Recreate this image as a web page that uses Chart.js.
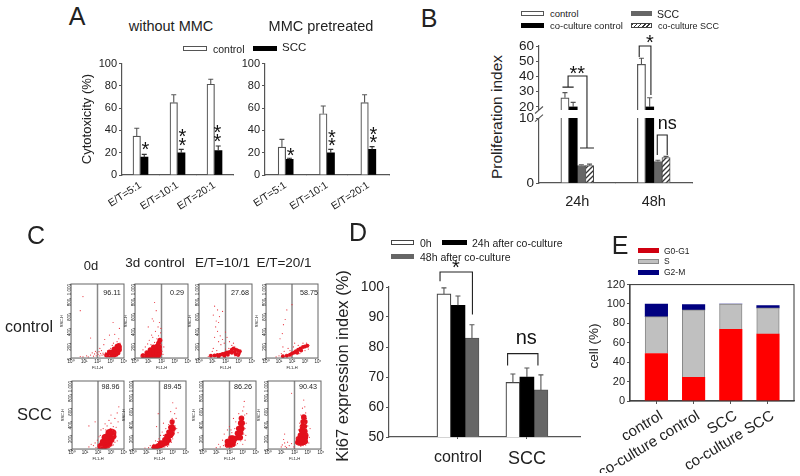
<!DOCTYPE html>
<html>
<head>
<meta charset="utf-8">
<script src="https://cdn.jsdelivr.net/npm/chart.js@4"></script>
<style>
  html, body { margin: 0; background: #fff; }
  #page { position: relative; width: 800px; height: 476px; overflow: hidden; font-family: "Liberation Sans", Arial, sans-serif; color: #222; }
  #page canvas { position: absolute; }
  .txt { position: absolute; white-space: nowrap; line-height: 1; }
  .swatch { position: absolute; box-sizing: border-box; }
</style>
</head>
<body>
<div id="page"></div>
<script>
// panel A
const aCategories = ["E/T=5:1", "E/T=10:1", "E/T=20:1"];
const aTicks = [0, 20, 40, 60, 80, 100];
const aLeftControl = [35, 65, 81.5];
const aLeftControlErr = [7, 7, 4.5];
const aLeftScc = [16, 20, 22];
const aLeftSccErr = [2.5, 3, 4];
const aRightControl = [25, 55, 65];
const aRightControlErr = [7, 7, 7];
const aRightScc = [14, 20, 23];
const aRightSccErr = [1, 3, 2.5];

// panel B (axis is broken between 10 and 18)
const bCategories = ["24h", "48h"];
const bTicks = [0, 10, 20, 30, 40, 50, 60];
const bControl = [26, 48];
const bControlErr = [3.4, 4];
const bCoControl = [20, 20];
const bCoControlErr = [3, 6];
const bScc = [2.7, 3.3];
const bSccErr = [0.1, 0.2];
const bCoScc = [2.7, 3.9];
const bCoSccErr = [0.2, 0.2];

// panel C: flow plots, [FL1-H, SSC-H]
const flowXTicks = [1, 10, 100, 1000, 10000];
const flowXLabels = ["10⁰", "10¹", "10²", "10³", "10⁴"];
const flowYTicks = [0, 200, 400, 600, 800, 1000];
const flowGate = [100, 100];
const flowPercent = ["96.11", "0.29", "27.68", "58.75", "98.96", "89.45", "86.26", "90.43"];
const flowCore = [
  [[500,40],[800,40],[1200,40],[1800,40],[2500,50],[800,80],[1200,80],[1800,80],[2500,80],[3500,70],[1800,120],[2500,120],[3500,120],[4500,110],[3000,160],[4000,170],[4500,150]],
  [[4,30],[7,30],[12,30],[20,30],[35,30],[60,30],[8,70],[14,70],[25,70],[45,70],[70,60],[14,110],[25,110],[45,110],[70,100],[25,150],[45,160],[70,150],[60,200],[75,240]],
  [[8,30],[15,35],[25,40],[40,45],[60,55],[90,60],[130,75],[200,80],[300,70],[500,80],[300,110],[150,45],[600,50],[600,110],[400,130],[800,100],[1000,60],[1200,90],[80,30],[30,20],[900,40]],
  [[20,25],[40,30],[70,45],[100,60],[150,75],[200,90],[300,110],[450,130],[700,150],[1000,155],[1500,165],[250,70],[500,100]],
  [[170,40],[250,60],[350,50],[500,60],[700,80],[250,100],[350,110],[500,120],[700,130],[1000,140],[350,170],[500,180],[700,190],[1000,200],[1400,190],[700,240],[1000,250],[1400,240]],
  [[40,30],[60,30],[80,50],[120,50],[160,60],[120,90],[180,90],[250,80],[350,90],[250,140],[350,140],[500,130],[350,190],[500,190],[700,200],[500,250],[700,260],[900,230],[700,320],[900,330],[1100,300],[900,400]],
  [[70,60],[100,70],[130,60],[180,70],[70,110],[100,110],[150,110],[200,110],[130,160],[180,160],[250,150],[400,170],[500,170],[650,170],[400,230],[550,240],[700,240],[500,300],[700,310],[850,300],[700,380],[900,380],[800,450]],
  [[180,100],[250,90],[350,90],[500,100],[650,110],[200,150],[300,150],[450,150],[650,160],[280,200],[400,210],[550,210],[700,200],[350,270],[450,270],[600,260],[400,330],[550,330],[450,400],[600,400],[500,470]]
];
const flowDots = [
  [[5,20],[8,15],[15,30],[20,15],[30,40],[40,70],[50,25],[60,55],[70,90],[80,30],[90,70],[110,50],[130,85],[150,30],[170,60],[200,100],[220,40],[260,65],[300,45],[350,30],[400,70],[500,30],[600,100],[800,35],[1000,130],[1300,170],[1600,200],[3000,220],[4000,260],[5000,200],[6000,120],[2000,320],[800,310],[4500,400],[300,180],[8,830],[5,640],[30,270],[350,250],[150,130],[1500,480]],
  [[3,20],[4,60],[5,30],[4,110],[6,150],[9,190],[12,240],[18,310],[10,420],[25,500],[30,750],[40,640],[22,280],[45,260],[60,300],[85,340],[95,260],[100,180],[110,90],[130,50],[90,400],[70,480],[16,180],[30,210],[6,90],[150,150],[35,360],[55,420],[20,530]],
  [[5,20],[6,40],[10,90],[15,700],[25,650],[12,580],[20,500],[30,480],[18,420],[25,360],[40,300],[15,280],[30,220],[45,180],[12,130],[60,250],[80,200],[100,350],[130,280],[60,630],[35,560],[200,220],[300,170],[500,150],[700,130],[800,40],[400,200],[700,90],[100,120],[180,130],[22,100],[500,30],[1000,70]],
  [[6,15],[10,30],[15,60],[25,90],[20,150],[12,260],[18,330],[30,520],[40,650],[22,450],[50,130],[70,100],[130,150],[100,720],[160,200],[35,50],[600,90],[1000,100],[1800,120],[2000,170],[1300,200],[700,200],[300,170],[60,20],[400,60],[90,30]],
  [[20,30],[30,70],[45,50],[60,90],[70,20],[90,130],[100,60],[120,180],[150,30],[170,280],[200,40],[250,300],[350,370],[500,340],[700,420],[1000,380],[1500,330],[2000,250],[2500,180],[3000,120],[2000,100],[1500,60],[1200,50],[800,30],[1000,500],[2000,450],[3000,530],[4000,620],[3500,400],[150,200],[60,400],[20,340],[1500,200],[1300,280],[900,300],[400,280],[180,140],[2500,320],[600,20]],
  [[8,15],[15,20],[25,20],[20,50],[35,70],[50,120],[70,110],[90,150],[120,200],[160,250],[200,200],[300,50],[500,60],[800,100],[1000,150],[1300,260],[1500,340],[1800,450],[2000,300],[1400,520],[1800,600],[1200,420],[900,450],[700,400],[500,360],[300,300],[200,380],[80,520],[60,330],[1100,200],[2500,240],[1000,680],[700,550],[400,40],[250,30]],
  [[10,20],[15,70],[20,30],[30,130],[35,50],[40,220],[50,80],[60,30],[70,280],[80,150],[100,330],[130,280],[180,40],[250,300],[200,450],[300,60],[400,80],[700,120],[900,150],[1200,220],[1500,300],[1800,380],[1400,500],[1000,560],[1200,620],[1300,700],[900,480],[600,430],[500,520],[1500,130],[1000,70],[1700,200],[400,330],[300,400],[150,240],[2000,520]],
  [[10,30],[12,60],[15,140],[18,90],[20,40],[25,20],[18,220],[30,100],[40,50],[60,80],[60,820],[90,30],[120,80],[150,160],[180,60],[200,280],[250,380],[300,500],[350,450],[400,600],[500,720],[600,620],[700,530],[800,450],[1000,340],[700,300],[900,220],[1300,170],[700,60],[450,50],[300,40],[1200,90],[600,380],[280,330],[1500,300]]
];

// panel D
const dCategories = ["control", "SCC"];
const dTicks = [50, 60, 70, 80, 90, 100];
const dZero = [97.7, 68.2];
const dZeroErr = [2, 2.8];
const dDay1 = [93.9, 70];
const dDay1Err = [3.1, 3];
const dDay2 = [83, 65.7];
const dDay2Err = [4.4, 5];

// panel E
const eCategories = ["control", "co-culture control", "SCC", "co-culture SCC"];
const eTicks = [0, 20, 40, 60, 80, 100, 120];
const eG0G1 = [49, 24.5, 74, 69];
const eS = [38, 69.5, 26, 27];
const eG2M = [13, 5.5, 0, 2.4];

const page = document.getElementById("page");
const FONT = '"Liberation Sans", Arial, sans-serif';
const INK = "#222";
const AXIS = "#555";

Chart.defaults.animation = false;
Chart.defaults.responsive = false;
Chart.defaults.font.family = FONT;
Chart.defaults.color = INK;
Chart.defaults.plugins.legend.display = false;
Chart.defaults.plugins.tooltip.enabled = false;

function text(str, x, y, size, rot) {
  const d = document.createElement("div");
  d.className = "txt";
  d.textContent = str;
  d.style.left = x + "px";
  d.style.top = y + "px";
  d.style.fontSize = size + "px";
  d.style.transform = "translate(-50%,-50%)" + (rot ? " rotate(" + rot + "deg)" : "");
  page.appendChild(d);
}

function leftText(str, x, y, size) {
  const d = document.createElement("div");
  d.className = "txt";
  d.textContent = str;
  d.style.left = x + "px";
  d.style.top = y + "px";
  d.style.fontSize = size + "px";
  d.style.transform = "translateY(-50%)";
  page.appendChild(d);
}

function swatch(x, y, w, fill, border) {
  const d = document.createElement("div");
  d.className = "swatch";
  d.style.left = x + "px";
  d.style.top = y - 2.5 + "px";
  d.style.width = w + "px";
  d.style.height = "5px";
  d.style.background = fill;
  d.style.border = "1px solid " + (border || fill);
  page.appendChild(d);
}

function hatchPattern() {
  const c = document.createElement("canvas");
  c.width = 5;
  c.height = 5;
  const g = c.getContext("2d");
  g.fillStyle = "#fff";
  g.fillRect(0, 0, 5, 5);
  g.strokeStyle = "#333";
  g.lineWidth = 1.3;
  g.beginPath();
  g.moveTo(-1, 6);
  g.lineTo(6, -1);
  g.moveTo(-1, 1);
  g.lineTo(1, -1);
  g.moveTo(4, 6);
  g.lineTo(6, 4);
  g.stroke();
  return g.createPattern(c, "repeat");
}

// box is the plot area on the page, pad the room round it for labels
function addCanvas(box, pad) {
  const c = document.createElement("canvas");
  c.width = box.r - box.l + pad.l + pad.r;
  c.height = box.b - box.t + pad.t + pad.b;
  c.style.left = box.l - pad.l + "px";
  c.style.top = box.t - pad.t + "px";
  page.appendChild(c);
  return c;
}

function padding(pad) {
  return { padding: { top: pad.t, right: pad.r, left: 0, bottom: 0 } };
}

function yAxis(min, max, ticks, size, width, extra) {
  return Object.assign({
    min: min,
    max: max,
    afterBuildTicks: (s) => { s.ticks = ticks.map((v) => ({ value: v })); },
    afterFit: (s) => { s.width = width; },
    grid: { drawOnChartArea: false, tickLength: 3, color: AXIS },
    border: { color: AXIS, width: 1.2 },
    ticks: { font: { size: size }, padding: 2, autoSkip: false }
  }, extra || {});
}

function xAxis(labels, height, font, rot, tickLen, tickPad) {
  return {
    afterFit: (s) => { s.height = height; },
    grid: { drawOnChartArea: false, tickLength: tickLen, color: AXIS },
    border: { color: AXIS, width: 1.2 },
    ticks: { font: font, padding: tickPad, autoSkip: false, minRotation: rot, maxRotation: rot }
  };
}

// category axis whose slots are not the full plot width
function xLinearAxis(labels, min, max, height, font, rot, tickLen, tickPad, labelOffset) {
  return Object.assign(xAxis(labels, height, font, rot, tickLen, tickPad), {
    type: "linear",
    min: min,
    max: max,
    offset: false,
    afterBuildTicks: (s) => { s.ticks = labels.map((_, i) => ({ value: i + 1 })); },
    ticks: {
      font: font,
      padding: tickPad,
      autoSkip: false,
      minRotation: rot,
      maxRotation: rot,
      labelOffset: labelOffset || 0,
      callback: (v) => labels[v - 1]
    },
    grid: { drawOnChartArea: false, offset: false, tickLength: tickLen, color: AXIS }
  });
}

function pointsOf(values) {
  return values.map((v, i) => ({ x: i + 1, y: v }));
}

// error bars, brackets and significance marks, placed through the scales
function marksPlugin(marks) {
  return {
    id: "marks",
    afterDatasetsDraw(chart) {
      const ctx = chart.ctx;
      const xs = chart.scales.x;
      const ys = chart.scales.y;
      ctx.save();
      if (marks.gap) marks.gap(chart);
      chart.data.datasets.forEach((ds, i) => {
        if (!ds.err) return;
        chart.getDatasetMeta(i).data.forEach((bar, j) => {
          const top = ys.getPixelForValue(ds.value[j] + ds.err[j]);
          const from = ys.getPixelForValue(ds.value[j]);
          ctx.strokeStyle = ds.errColor || AXIS;
          ctx.lineWidth = 1.1;
          ctx.beginPath();
          ctx.moveTo(bar.x, from);
          ctx.lineTo(bar.x, top);
          ctx.moveTo(bar.x - 2.5, top);
          ctx.lineTo(bar.x + 2.5, top);
          ctx.stroke();
        });
      });
      (marks.brackets || []).forEach((b) => {
        const x0 = xs.getPixelForValue(b.x0);
        const x1 = xs.getPixelForValue(b.x1);
        const y = ys.getPixelForValue(b.y);
        const y0 = ys.getPixelForValue(b.from);
        const y1 = ys.getPixelForValue(b.to);
        ctx.strokeStyle = "#222";
        ctx.lineWidth = 1.1;
        ctx.beginPath();
        ctx.moveTo(x0, y0);
        ctx.lineTo(x0, y);
        ctx.lineTo(x1, y);
        ctx.lineTo(x1, y1);
        if (b.capL) { ctx.moveTo(x0 - b.capL, y0); ctx.lineTo(x0 + b.capL, y0); }
        if (b.capR) { ctx.moveTo(x1 - b.capR, y1); ctx.lineTo(x1 + b.capR, y1); }
        ctx.stroke();
      });
      (marks.labels || []).forEach((m) => {
        ctx.fillStyle = "#111";
        ctx.font = m.size + "px " + FONT;
        ctx.textAlign = "center";
        ctx.textBaseline = "middle";
        const isStar = m.text.charAt(0) === "*";
        ctx.fillText(m.text, xs.getPixelForValue(m.x), ys.getPixelForValue(m.y) + (isStar ? m.size * 0.2 : 0));
      });
      ctx.restore();
    }
  };
}

const framePlugin = {
  id: "frame",
  afterDatasetsDraw(chart) {
    const a = chart.chartArea;
    const ctx = chart.ctx;
    ctx.save();
    ctx.strokeStyle = chart.options.frameColor || "#444";
    ctx.lineWidth = 1;
    ctx.strokeRect(a.left, a.top, a.right - a.left, a.bottom - a.top);
    ctx.restore();
  }
};

// ---- panel A ----
function cytotoxChart(box, control, controlErr, scc, sccErr, marks) {
  const pad = { l: 34, r: 6, t: 8, b: 40 };
  new Chart(addCanvas(box, pad), {
    type: "bar",
    data: {
      labels: aCategories,
      datasets: [
        { data: control, value: control, err: controlErr, backgroundColor: "#fff", borderColor: AXIS, borderWidth: 1.2, barThickness: 7.5 },
        { data: scc, value: scc, err: sccErr, errColor: "#333", backgroundColor: "#000", barThickness: 7.5 }
      ]
    },
    options: {
      layout: padding(pad),
      scales: {
        x: xAxis(aCategories, 40, { size: 10.5 }, 33, 0, 4),
        y: yAxis(0, 100, aTicks, 11, 34)
      }
    },
    plugins: [marksPlugin(marks)]
  });
}

cytotoxChart({ l: 122, r: 233, t: 63, b: 175 }, aLeftControl, aLeftControlErr, aLeftScc, aLeftSccErr, {
  labels: [
    { x: 0.13, y: 26, text: "*", size: 20 },
    { x: 1.13, y: 37, text: "*", size: 20 },
    { x: 1.13, y: 29.5, text: "*", size: 20 },
    { x: 2.08, y: 40.5, text: "*", size: 20 },
    { x: 2.08, y: 32.5, text: "*", size: 20 }
  ]
});
cytotoxChart({ l: 265, r: 389, t: 63, b: 175 }, aRightControl, aRightControlErr, aRightScc, aRightSccErr, {
  labels: [
    { x: 0.12, y: 20, text: "*", size: 20 },
    { x: 1.12, y: 36, text: "*", size: 20 },
    { x: 1.12, y: 29, text: "*", size: 20 },
    { x: 2.12, y: 39.5, text: "*", size: 20 },
    { x: 2.12, y: 32, text: "*", size: 20 }
  ]
});

text("A", 77, 16, 25);
text("without MMC", 171, 26, 14.5);
text("MMC pretreated", 321, 26, 14.5);
text("Cytotoxicity (%)", 86, 119, 13, -90);
swatch(183, 48, 24, "#fff", AXIS);
leftText("control", 213, 48.5, 10.5);
swatch(253, 48, 24, "#000");
leftText("SCC", 282, 48, 11.5);

// ---- panel B ----
// linear scale with a cut in it: 0-10 below the cut, 18-60 above
class BrokenScale extends Chart.LinearScale {
  static id = "broken";
  static defaults = Chart.LinearScale.defaults;
  getPixelForValue(v) {
    let d;
    if (v <= 10) d = (v / 10) * 0.474;
    else if (v <= 18) d = 0.474 + ((v - 10) / 8) * 0.059;
    else d = 0.533 + ((v - 18) / 42) * 0.467;
    return this.getPixelForDecimal(d);
  }
}
Chart.register(BrokenScale);

const bBox = { l: 539, r: 692, t: 46, b: 183 };
const bPad = { l: 30, r: 8, t: 16, b: 30 };
new Chart(addCanvas(bBox, bPad), {
  type: "bar",
  data: {
    labels: bCategories,
    datasets: [
      { data: bControl, value: bControl, err: bControlErr, backgroundColor: "#fff", borderColor: AXIS, borderWidth: 1.2, barThickness: 8.2 },
      { data: bCoControl, value: bCoControl, err: bCoControlErr, backgroundColor: "#000", barThickness: 8.2 },
      { data: bScc, value: bScc, err: bSccErr, backgroundColor: "#666", borderColor: "#555", borderWidth: 1, barThickness: 8.2 },
      { data: bCoScc, value: bCoScc, err: bCoSccErr, backgroundColor: hatchPattern(), borderColor: "#444", borderWidth: 1, barThickness: 8.2 }
    ]
  },
  options: {
    layout: padding(bPad),
    scales: {
      x: xAxis(bCategories, 30, { size: 14.5 }, 0, 0, 10),
      y: yAxis(0, 60, bTicks, 13.5, 30, { type: "broken" })
    }
  },
  plugins: [marksPlugin({
    gap(chart) {
      const ctx = chart.ctx;
      const ys = chart.scales.y;
      const a = chart.chartArea;
      const low = ys.getPixelForValue(10);
      const high = ys.getPixelForValue(18);
      ctx.clearRect(a.left - 1, high, a.right - a.left + 1, low - high);
      ctx.strokeStyle = AXIS;
      ctx.lineWidth = 1.1;
      ctx.beginPath();
      [low, high].forEach((y) => {
        ctx.moveTo(a.left - 4, y + 3.5);
        ctx.lineTo(a.left + 4, y - 3.5);
      });
      ctx.stroke();
    },
    brackets: [
      { x0: -0.12, x1: 0.127, y: 40.3, from: 33, to: 5.4, capL: 5.6, capR: 7 },
      { x0: 0.81, x1: 0.963, y: 60, from: 52.8, to: 27.8 },
      { x0: 1.046, x1: 1.176, y: 7.4, from: 4.3, to: 4.3 }
    ],
    labels: [
      { x: 0, y: 44, text: "**", size: 20 },
      { x: 0.95, y: 64, text: "*", size: 20 },
      { x: 1.176, y: 9.1, text: "ns", size: 18 }
    ]
  })]
});

text("B", 429, 18, 25);
text("Proliferation index", 497, 117, 15.5, -90);
swatch(521, 13, 23, "#fff", AXIS);
leftText("control", 550, 13.5, 9.5);
swatch(521, 25, 23, "#000");
leftText("co-culture control", 550, 25.5, 9.5);
swatch(631, 13, 21, "#666");
leftText("SCC", 657, 13.5, 10.5);
swatch(631, 25, 21, "repeating-linear-gradient(135deg,#333 0 1px,#fff 1px 3px)", "#444");
leftText("co-culture SCC", 658, 26, 9);

// ---- panel C ----
const flowBoxes = [
  { l: 71, r: 124, t: 284, b: 358 },
  { l: 135, r: 188, t: 284, b: 358 },
  { l: 199, r: 252, t: 284, b: 358 },
  { l: 266, r: 318, t: 284, b: 358 },
  { l: 72, r: 124, t: 381, b: 449 },
  { l: 133, r: 186, t: 381, b: 449 },
  { l: 203, r: 256, t: 381, b: 449 },
  { l: 268, r: 321, t: 381, b: 449 }
];
const flowCoreRadius = [2.5, 2.5, 2, 2, 3.5, 2.6, 2.8, 2.8];
const flowTextPos = [[112, 293], [177, 293], [240, 293], [309, 293], [110.5, 387], [172.5, 387], [243, 387], [308, 387]];

flowBoxes.forEach((box, i) => {
  const pair = (d) => d.map((p) => ({ x: p[0], y: p[1] }));
  const pad = { l: 12, r: 5, t: 4, b: 12 };
  new Chart(addCanvas(box, pad), {
    type: "scatter",
    data: {
      datasets: [
        { data: pair(flowDots[i]), backgroundColor: "#e8323c", pointRadius: 0.6, borderWidth: 0 },
        { data: pair(flowCore[i]), backgroundColor: "#e2101c", pointRadius: flowCoreRadius[i], borderWidth: 0 },
        { data: [{ x: flowGate[0], y: 0 }, { x: flowGate[1], y: 1000 }], showLine: true, borderColor: "#888", borderWidth: 1.5, pointRadius: 0 }
      ]
    },
    options: {
      frameColor: "#666",
      layout: padding(pad),
      scales: {
        x: {
          type: "logarithmic",
          min: 1,
          max: 10000,
          afterBuildTicks: (s) => { s.ticks = flowXTicks.map((v) => ({ value: v })); },
          afterFit: (s) => { s.height = 12; },
          grid: { drawOnChartArea: false, tickLength: 1.5, color: "#666" },
          ticks: { font: { size: 4.5 }, padding: 0, autoSkip: false, maxRotation: 0, callback: (v) => flowXLabels[flowXTicks.indexOf(v)] },
          title: { display: true, text: "FL1-H", font: { size: 4 }, padding: 0 }
        },
        y: {
          min: 0,
          max: 1000,
          afterBuildTicks: (s) => { s.ticks = flowYTicks.map((v) => ({ value: v })); },
          afterFit: (s) => { s.width = 12; },
          grid: { drawOnChartArea: false, tickLength: 1.5, color: "#666" },
          ticks: { font: { size: 4.5 }, padding: 0, autoSkip: false, minRotation: 90, maxRotation: 90 },
          title: { display: true, text: "SSC-H", font: { size: 4 }, padding: 0 }
        }
      }
    },
    plugins: [framePlugin]
  });
  text(flowPercent[i], flowTextPos[i][0], flowTextPos[i][1], 7.2);
});

text("C", 36, 235, 25);
text("0d", 91, 265, 13);
text("3d control", 155, 263, 13.5);
text("E/T=10/1", 222.5, 263, 13.5);
text("E/T=20/1", 284, 263, 13.5);
text("control", 29, 327, 16);
text("SCC", 34.5, 414, 16.5);

// ---- panel D ----
const dPad = { l: 34, r: 4, t: 30, b: 36 };
new Chart(addCanvas({ l: 389, r: 580, t: 287, b: 437 }, dPad), {
  type: "bar",
  data: {
    datasets: [
      { data: pointsOf(dZero), value: dZero, err: dZeroErr, backgroundColor: "#fff", borderColor: "#444", borderWidth: 1.2, barThickness: 14 },
      { data: pointsOf(dDay1), value: dDay1, err: dDay1Err, backgroundColor: "#000", barThickness: 14 },
      { data: pointsOf(dDay2), value: dDay2, err: dDay2Err, backgroundColor: "#666", borderColor: "#555", borderWidth: 1, barThickness: 14 }
    ]
  },
  options: {
    layout: padding(dPad),
    scales: {
      x: xLinearAxis(dCategories, 0, 2.77, 36, (c) => ({ size: c.index === 0 ? 16 : 18 }), 0, 2, 9),
      y: yAxis(50, 100, dTicks, 14, 34)
    }
  },
  plugins: [marksPlugin({
    brackets: [
      { x0: 0.74, x1: 1.21, y: 105, from: 101.9, to: 90.8 },
      { x0: 1.72, x1: 2.16, y: 77.8, from: 73.8, to: 73.8 }
    ],
    labels: [
      { x: 0.97, y: 107.5, text: "*", size: 20 },
      { x: 1.99, y: 82.8, text: "ns", size: 20 }
    ]
  })]
});

text("D", 358, 232, 25);
text("Ki67 expression index (%)", 342, 366, 16.5, -90);
swatch(391, 242, 23, "#fff", "#444");
leftText("0h", 420, 242.5, 10.5);
swatch(442, 242, 25, "#000");
leftText("24h after co-culture", 472, 243, 10.5);
swatch(391, 256, 23, "#666");
leftText("48h after co-culture", 420, 256.5, 10.5);

// ---- panel E ----
const ePad = { l: 60, r: 5, t: 8, b: 72 };
new Chart(addCanvas({ l: 630, r: 794, t: 284, b: 401 }, ePad), {
  type: "bar",
  data: {
    datasets: [
      { data: pointsOf(eG0G1), backgroundColor: "#ff0000", barThickness: 22.5 },
      { data: pointsOf(eS), backgroundColor: "#c0c0c0", borderColor: "#888", borderWidth: 1, barThickness: 22.5 },
      { data: pointsOf(eG2M), backgroundColor: "#000080", barThickness: 22.5 }
    ]
  },
  options: {
    frameColor: "#333",
    layout: padding(ePad),
    scales: {
      x: Object.assign(xLinearAxis(eCategories, 0.29, 4.7, 72, { size: 15 }, 31, 3, 3, 5), { stacked: true }),
      y: yAxis(0, 120, eTicks, 11, 60, { stacked: true })
    }
  },
  plugins: [framePlugin]
});

text("E", 620, 245, 25);
text("cell (%)", 594, 346, 13.5, -90);
swatch(638, 250, 21, "#d00010");
leftText("G0-G1", 664, 250.5, 8.5);
swatch(638, 261, 21, "#c0c0c0", "#888");
leftText("S", 664, 261, 8.5);
swatch(638, 272, 21, "#000080");
leftText("G2-M", 664, 272, 8.5);
</script>
</body>
</html>
